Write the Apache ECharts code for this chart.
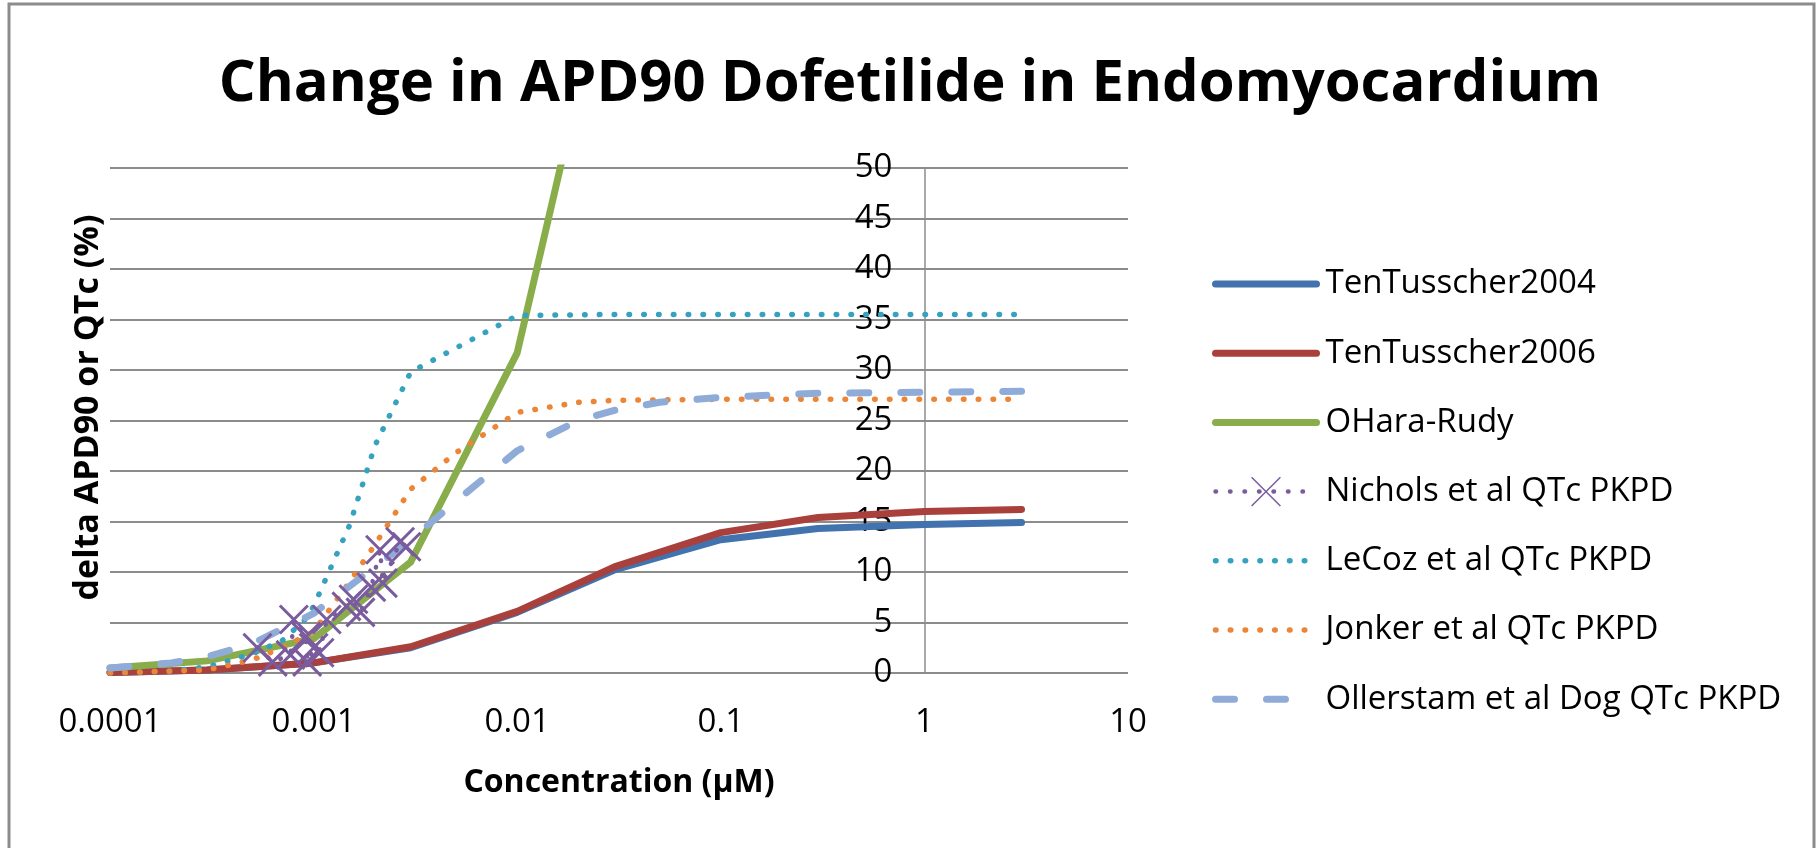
<!DOCTYPE html>
<html>
<head>
<meta charset="utf-8">
<script src="https://cdn.jsdelivr.net/npm/echarts@6/dist/echarts.min.js"></script>
<style>
  html, body { margin: 0; padding: 0; background: #fff; }
  #chart { width: 1820px; height: 848px; }
</style>
</head>
<body>
<div id="chart"></div>
<script>
// concentrations (uM) and delta APD90 / QTc (%)
var concSim = [0.0001, 0.0003, 0.001, 0.003, 0.01, 0.03, 0.1, 0.3, 1, 3];
var tt2004 = [0.05, 0.3, 1.0, 2.5, 6.0, 10.2, 13.2, 14.3, 14.7, 14.9];
var tt2006 = [0.05, 0.3, 1.0, 2.6, 6.1, 10.5, 13.9, 15.4, 16.0, 16.2];

var concOHara = [0.0001, 0.0003, 0.001, 0.003, 0.01, 0.03];
var ohara = [0.5, 1.2, 3.4, 11.0, 31.7, 73];

var concNichols = [0.00053, 0.00063, 0.00077, 0.0008, 0.00092, 0.00093, 0.001, 0.00107, 0.00116,
  0.00145, 0.00157, 0.0017, 0.00192, 0.00212, 0.00219, 0.00266, 0.00286];
var nichols = [2.5, 1.1, 1.8, 5.3, 3.6, 1.1, 2.5, 2.0, 5.3,
  6.6, 7.3, 6.0, 8.5, 12.2, 8.9, 13.0, 12.5];

var concLeCoz = [0.0001, 0.0002, 0.0003, 0.0005, 0.0007, 0.0009, 0.001, 0.0015, 0.002, 0.003, 0.01, 0.03, 0.1, 0.3, 1, 3];
var lecoz = [0, 0.2, 0.6, 1.9, 3.2, 5.2, 6.6, 14.6, 22.5, 29.8, 35.4, 35.5, 35.5, 35.5, 35.5, 35.5];

var concJonker = [0.0001, 0.0003, 0.0005, 0.0007, 0.001, 0.0015, 0.002, 0.003, 0.005, 0.01, 0.02, 0.03, 0.1, 0.3, 1, 3];
var jonker = [0, 0.3, 1.3, 2.5, 4.1, 9.0, 12.7, 18.2, 21.8, 25.8, 26.8, 27.0, 27.1, 27.1, 27.1, 27.1];

var concOllerstam = [0.0001, 0.0002, 0.0003, 0.0005, 0.001, 0.002, 0.003, 0.005, 0.01, 0.02, 0.03, 0.05, 0.1, 0.3, 1, 3];
var ollerstam = [0.5, 1.0, 1.6, 2.9, 5.9, 10.5, 13.2, 17.0, 22.0, 25.0, 26.0, 26.8, 27.3, 27.7, 27.8, 27.9];

var xTickLabels = ['0.0001', '0.001', '0.01', '0.1', '1', '10'];
var seriesNames = ['TenTusscher2004', 'TenTusscher2006', 'OHara-Rudy', 'Nichols et al QTc PKPD',
  'LeCoz et al QTc PKPD', 'Jonker et al QTc PKPD', 'Ollerstam et al Dog QTc PKPD'];

function pairs(xs, ys) {
  return xs.map(function (x, i) { return [x, ys[i]]; });
}

var xMin = 0.0001, xMax = 10;
var gridLeft = 110, gridRight = 692, gridTop = 168, gridBottom = 175;
var gridW = 1820 - gridLeft - gridRight;
// y axis sits where x = 1 (Excel "vertical axis crosses at")
var yAxisShift = gridW * (Math.log10(1) - Math.log10(xMin)) / (Math.log10(xMax) - Math.log10(xMin));

var font = '"Open Sans", "Noto Sans", sans-serif';
var dotted = [0.5, 14.3];
var dashed = [19, 32];
var xMark = 'path://M0,0L10,10M10,0L0,10';

var chart = echarts.init(document.getElementById('chart'));
chart.setOption({
  animation: false,
  backgroundColor: '#fff',
  graphic: [{
    type: 'rect',
    shape: { x: 9, y: 4, width: 1805, height: 870 },
    style: { fill: 'none', stroke: '#8c8c8c', lineWidth: 3 },
    silent: true
  }],
  title: {
    text: 'Change in APD90 Dofetilide in Endomyocardium',
    left: 'center',
    top: 50,
    textStyle: { fontFamily: font, fontWeight: 'bold', fontSize: 58, color: '#000' }
  },
  legend: {
    orient: 'vertical',
    left: 1207,
    top: 261,
    itemWidth: 101,
    itemHeight: 36,
    itemGap: 33.2,
    textStyle: { fontFamily: font, fontSize: 33, color: '#000', lineHeight: 36, padding: [0, 0, 0, 4] },
    data: [
      { name: seriesNames[0], itemStyle: { opacity: 0 }, lineStyle: { width: 7, type: 'solid', cap: 'round' } },
      { name: seriesNames[1], itemStyle: { opacity: 0 }, lineStyle: { width: 7, type: 'solid', cap: 'round' } },
      { name: seriesNames[2], itemStyle: { opacity: 0 }, lineStyle: { width: 7, type: 'solid', cap: 'round' } },
      { name: seriesNames[3], itemStyle: { borderWidth: 1.5 }, lineStyle: { width: 4.5, type: [0.5, 14], cap: 'round' } },
      { name: seriesNames[4], itemStyle: { opacity: 0 }, lineStyle: { width: 5.5, type: dotted, cap: 'round' } },
      { name: seriesNames[5], itemStyle: { opacity: 0 }, lineStyle: { width: 5.5, type: dotted, cap: 'round' } },
      { name: seriesNames[6], itemStyle: { opacity: 0 }, lineStyle: { width: 7, type: dashed, cap: 'round' } }
    ]
  },
  grid: { left: gridLeft, right: gridRight, top: gridTop, bottom: gridBottom, containLabel: false },
  xAxis: {
    type: 'log',
    logBase: 10,
    min: xMin,
    max: xMax,
    name: 'Concentration (\u00b5M)',
    nameLocation: 'middle',
    nameGap: 92,
    nameTextStyle: { fontFamily: font, fontWeight: 'bold', fontSize: 32, color: '#000', lineHeight: 36 },
    axisLine: { show: false },
    axisTick: { show: false },
    splitLine: { show: false },
    axisLabel: {
      margin: 33,
      fontFamily: font,
      fontSize: 33,
      lineHeight: 34,
      color: '#000',
      formatter: function (v) {
        return xTickLabels[Math.round(Math.log10(v) - Math.log10(xMin))];
      }
    }
  },
  yAxis: {
    type: 'value',
    min: 0,
    max: 50,
    interval: 5,
    offset: -yAxisShift,
    name: 'delta APD90 or QTc (%)',
    nameLocation: 'middle',
    nameGap: yAxisShift + 5,
    nameTextStyle: { fontFamily: font, fontWeight: 'bold', fontSize: 34, color: '#000', padding: [0, 0, 0, 26] },
    axisLine: { show: true, lineStyle: { color: '#8c8c8c', width: 1.5 } },
    axisTick: { show: false },
    axisLabel: { margin: 32, fontFamily: font, fontSize: 33, color: '#000' },
    splitLine: { show: true, lineStyle: { color: '#8c8c8c', width: 2 } }
  },
  series: [
    {
      name: seriesNames[0], type: 'line', symbol: 'none', z: 3,
      data: pairs(concSim, tt2004),
      itemStyle: { color: '#4373ae' },
      lineStyle: { color: '#4373ae', width: 7, cap: 'round', join: 'round' }
    },
    {
      name: seriesNames[1], type: 'line', symbol: 'none', z: 3,
      data: pairs(concSim, tt2006),
      itemStyle: { color: '#aa403c' },
      lineStyle: { color: '#aa403c', width: 7, cap: 'round', join: 'round' }
    },
    {
      name: seriesNames[2], type: 'line', symbol: 'none', z: 3,
      data: pairs(concOHara, ohara),
      itemStyle: { color: '#88ad4a' },
      lineStyle: { color: '#88ad4a', width: 7, cap: 'round', join: 'round' }
    },
    {
      name: seriesNames[3], type: 'line', symbol: xMark, symbolSize: 28, showSymbol: true, z: 4,
      data: pairs(concNichols, nichols),
      itemStyle: { color: '#7a5c9e', borderColor: '#7a5c9e', borderWidth: 3 },
      lineStyle: { color: '#7a5c9e', width: 4.5, type: [0.5, 14], cap: 'round' }
    },
    {
      name: seriesNames[4], type: 'line', symbol: 'none', z: 3,
      data: pairs(concLeCoz, lecoz),
      itemStyle: { color: '#35a3bf' },
      lineStyle: { color: '#35a3bf', width: 5.5, type: dotted, cap: 'round' }
    },
    {
      name: seriesNames[5], type: 'line', symbol: 'none', z: 3,
      data: pairs(concJonker, jonker),
      itemStyle: { color: '#ec8535' },
      lineStyle: { color: '#ec8535', width: 5.5, type: dotted, cap: 'round' }
    },
    {
      name: seriesNames[6], type: 'line', symbol: 'none', z: 3,
      data: pairs(concOllerstam, ollerstam),
      itemStyle: { color: '#8fabd8' },
      lineStyle: { color: '#8fabd8', width: 7, type: dashed, cap: 'round' }
    }
  ]
});
</script>
</body>
</html>
